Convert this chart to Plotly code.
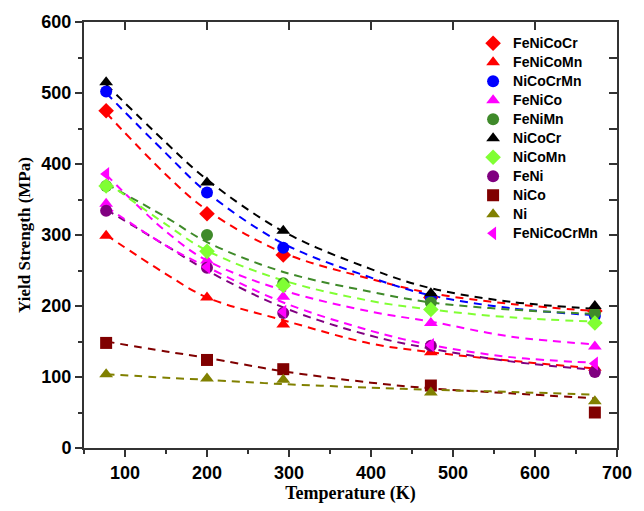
import plotly.graph_objects as go

# ---- data ----
T = [77, 200, 293, 473, 673]
series_names = ["FeNiCoCr", "FeNiCoMn", "NiCoCrMn", "FeNiCo", "FeNiMn", "NiCoCr",
                "NiCoMn", "FeNi", "NiCo", "Ni", "FeNiCoCrMn"]
FeNiCoCr = [475, 330, 272, 212, 193]
FeNiCoMn = [299, 212, 174, 135, 113]
NiCoCrMn = [502, 360, 282, 212, 186]
FeNiCo = [344, 264, 213, 176, 143]
FeNiMn = [369, 300, 232, 205, 190]
NiCoCr = [515, 374, 306, 218, 200]
NiCoMn = [369, 277, 229, 195, 176]
FeNi = [334, 254, 190, 144, 107]
NiCo = [148, 124, 111, 88, 50]
Ni = [104, 98, 96, 78, 66]
FeNiCoCrMn = [386, 255, 192, 145, 119]

# dashed fit curves, read at these temperatures
T_fit = [77, 150, 200, 293, 400, 473, 570, 673]
fit_FeNiCoCr = [472, 385, 335, 275, 238, 218, 203, 193]
fit_FeNiCoMn = [300, 245, 212, 180, 147, 135, 123, 112]
fit_NiCoCrMn = [500, 415, 360, 288, 240, 215, 197, 187]
fit_FeNiCo = [385, 305, 264, 222, 192, 178, 157, 146]
fit_FeNiMn = [372, 325, 290, 248, 220, 205, 195, 189]
fit_NiCoCr = [512, 430, 378, 305, 252, 225, 206, 196]
fit_NiCoMn = [375, 315, 278, 236, 207, 195, 184, 178]
fit_FeNi = [336, 285, 250, 198, 158, 140, 122, 110]
fit_NiCo = [150, 136, 127, 108, 92, 84, 77, 70]
fit_Ni = [104, 99, 96, 90, 85, 82, 79, 75]
fit_FeNiCoCrMn = [340, 285, 255, 205, 165, 145, 128, 120]

x_ticks = [100, 200, 300, 400, 500, 600, 700]
y_ticks = [0, 100, 200, 300, 400, 500, 600]

values = [FeNiCoCr, FeNiCoMn, NiCoCrMn, FeNiCo, FeNiMn, NiCoCr, NiCoMn, FeNi, NiCo, Ni, FeNiCoCrMn]
fits = [fit_FeNiCoCr, fit_FeNiCoMn, fit_NiCoCrMn, fit_FeNiCo, fit_FeNiMn, fit_NiCoCr,
        fit_NiCoMn, fit_FeNi, fit_NiCo, fit_Ni, fit_FeNiCoCrMn]

colors = ["#FF0000", "#FF0000", "#0000FF", "#FF00FF", "#3F8A2A", "#000000",
          "#80FF33", "#800080", "#800000", "#808000", "#FF00FF"]
symbols = ["diamond", "triangle-up", "circle", "triangle-up", "circle", "triangle-up",
           "diamond", "circle", "square", "triangle-up", "triangle-left"]

fig = go.Figure()

for f, c in zip(fits, colors):
    fig.add_trace(go.Scatter(x=T_fit, y=f, mode="lines", showlegend=False,
                             line=dict(color=c, width=2, dash="8px,6px", shape="spline"),
                             hoverinfo="skip"))

for name, v, c, s in zip(series_names, values, colors, symbols):
    fig.add_trace(go.Scatter(x=T, y=v, mode="markers",
                             name='<span style="font-size:14px">' + name + '</span>',
                             marker=dict(color=c, symbol=s, size=12, line=dict(width=0))))

axis_line = "#333333"
tick_font = dict(family="Liberation Sans, Arial", size=18, color="#000000", weight="bold")
title_font_family = "Liberation Serif, Times New Roman"

fig.update_layout(
    width=644, height=511,
    margin=dict(l=84, r=17, t=21, b=63),
    paper_bgcolor="white", plot_bgcolor="white",
    font=dict(family="Liberation Sans, Arial", color="#000000"),
    legend=dict(x=0.73, y=0.984, xanchor="left", yanchor="top",
                bgcolor="rgba(255,255,255,0)",
                font=dict(family="Liberation Sans, Arial", size=12, color="#000000", weight="bold"),
                itemwidth=30, tracegroupgap=0),
    xaxis=dict(range=[50, 700], tickmode="array", tickvals=x_ticks,
               ticktext=[str(v) for v in x_ticks],
               ticks="outside", ticklen=7, tickwidth=1.5, tickcolor=axis_line,
               minor=dict(tickvals=[50, 150, 250, 350, 450, 550, 650], ticks="outside", ticklen=4,
                          tickwidth=1.5, tickcolor=axis_line),
               showline=True, linecolor=axis_line, linewidth=2, showgrid=False, zeroline=False,
               tickfont=tick_font,
               title=dict(text="Temperature (K)",
                          font=dict(family=title_font_family, size=18, color="#000000", weight="bold"),
                          standoff=0)),
    yaxis=dict(range=[0, 600], tickmode="array", tickvals=y_ticks,
               ticktext=[str(v) for v in y_ticks],
               ticks="outside", ticklen=7, tickwidth=1.5, tickcolor=axis_line,
               minor=dict(tickvals=[50, 150, 250, 350, 450, 550], ticks="outside", ticklen=4,
                          tickwidth=1.5, tickcolor=axis_line),
               showline=True, linecolor=axis_line, linewidth=2, showgrid=False, zeroline=False,
               tickfont=tick_font,
               title=dict(text="Yield Strength (MPa)",
                          font=dict(family=title_font_family, size=17, color="#000000", weight="bold"),
                          standoff=6)),
    xaxis2=dict(range=[50, 700], overlaying="x", side="top", anchor="y",
                tickvals=x_ticks, showticklabels=False,
                ticks="inside", ticklen=8, tickwidth=1.5, tickcolor=axis_line,
                showline=True, linecolor=axis_line, linewidth=2, showgrid=False, zeroline=False),
    yaxis2=dict(range=[0, 600], overlaying="y", side="right", anchor="x",
                tickvals=[50, 100, 150, 200, 250, 300, 350, 400, 450, 500, 550], showticklabels=False,
                ticks="inside", ticklen=8, tickwidth=1.5, tickcolor=axis_line,
                showline=True, linecolor=axis_line, linewidth=2, showgrid=False, zeroline=False),
)

# invisible trace so the mirrored frame axes are drawn
fig.add_trace(go.Scatter(x=[None], y=[None], xaxis="x2", yaxis="y2", showlegend=False,
                         hoverinfo="skip"))

fig.write_html("out.html", config={"displayModeBar": False},
               post_script="document.body.style.margin='0';")
